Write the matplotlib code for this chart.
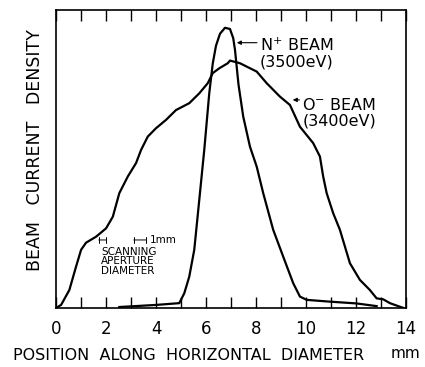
import matplotlib.pyplot as plt

# N+ beam (3500 eV), position in mm vs relative current density
n_x = [2.53, 4.0, 4.93, 5.13, 5.33, 5.53, 5.73, 5.93, 6.13, 6.27, 6.4, 6.56, 6.76,
       6.96, 7.09, 7.16, 7.3, 7.49, 7.76, 8.03, 8.29, 8.69, 9.09, 9.49, 9.76,
       10.03, 10.96, 12.03, 12.83]
n_y = [0.3, 1.0, 1.6, 4.9, 10.5, 19.5, 36.2, 53.0, 72.0, 82.0, 88.0, 92.0, 94.0,
       93.6, 90.5, 86.6, 75.0, 64.2, 54.1, 47.4, 38.5, 26.2, 17.2, 8.3, 3.8,
       2.7, 2.1, 1.5, 0.6]

# O- beam (3400 eV)
o_x = [0.0, 0.2, 0.53, 0.8, 1.0, 1.2, 1.6, 2.0, 2.27, 2.53, 2.87, 3.2, 3.4, 3.67,
       4.0, 4.4, 4.8, 5.33, 5.73, 6.07, 6.27, 6.53, 6.87, 6.96, 7.36, 8.03, 8.43,
       8.96, 9.36, 9.76, 10.29, 10.56, 10.69, 10.83, 11.09, 11.36, 11.56, 11.76,
       12.16, 12.56, 12.83, 13.09, 13.36, 13.76, 13.9]
o_y = [0.0, 1.0, 6.0, 13.9, 19.5, 21.9, 23.9, 26.7, 30.6, 38.5, 44.1, 48.6, 53.0, 57.5,
       60.3, 63.1, 66.4, 68.7, 72.0, 75.4, 78.8, 80.4, 82.1, 83.0, 82.1, 79.3, 75.4,
       70.9, 68.1, 60.8, 55.3, 50.8, 44.1, 38.5, 31.8, 26.2, 20.6, 15.0,
       9.4, 6.0, 3.2, 2.9, 1.6, 0.4, 0.0]

xticks = [0, 2, 4, 6, 8, 10, 12, 14]

fig = plt.figure(figsize=(4.25, 3.67), dpi=100)
ax = fig.add_axes([0.132, 0.161, 0.823, 0.812])

ax.plot(n_x, n_y, color='black', lw=1.6, solid_joinstyle='round')
ax.plot(o_x, o_y, color='black', lw=1.6, solid_joinstyle='round')

ax.set_xlim(0, 14)
ax.set_ylim(0, 100)
ax.set_xticks(xticks)
ax.set_xticklabels([str(t) for t in xticks], fontsize=12)
ax.set_xticks(range(0, 15), minor=True)
ax.tick_params(axis='x', which='both', direction='in', top=True, length=8, width=1, pad=9)
ax.set_yticks([])
for s in ax.spines.values():
    s.set_linewidth(1.2)

ax.set_xlabel('POSITION  ALONG  HORIZONTAL  DIAMETER', fontsize=11.5, labelpad=4)
ax.xaxis.set_label_coords(0.38, -0.135)
ax.set_ylabel('BEAM   CURRENT   DENSITY', fontsize=12.5)
ax.yaxis.set_label_coords(-0.035, 0.53)
fig.text(0.953, 0.025, 'mm', fontsize=11, ha='center')

# labels with leader arrows
ax.annotate('', xy=(7.12, 89.0), xytext=(8.15, 89.0),
            arrowprops=dict(arrowstyle='-|>', color='black', lw=0.8, mutation_scale=6))
ax.text(8.15, 85.5, 'N$^{+}$ BEAM\n(3500eV)', fontsize=11.5, va='center', ha='left',
        linespacing=1.05)
ax.annotate('', xy=(9.36, 69.8), xytext=(9.85, 69.8),
            arrowprops=dict(arrowstyle='-|>', color='black', lw=0.8, mutation_scale=6))
ax.text(9.85, 65.4, 'O$^{-}$ BEAM\n(3400eV)', fontsize=11.5, va='center', ha='left',
        linespacing=1.05)

# scanning aperture marker
ax.annotate('', xy=(1.6, 22.8), xytext=(2.1, 22.8),
            arrowprops=dict(arrowstyle='|-|', color='black', lw=0.7, mutation_scale=2))
ax.annotate('', xy=(3.0, 22.8), xytext=(3.7, 22.8),
            arrowprops=dict(arrowstyle='|-|', color='black', lw=0.7, mutation_scale=2))
ax.text(3.75, 22.8, '1mm', fontsize=7.5, va='center', ha='left')
ax.text(1.8, 20.5, 'SCANNING\nAPERTURE\nDIAMETER', fontsize=7.5, va='top', ha='left',
        linespacing=0.95)

fig.savefig('out.png', dpi=100)
